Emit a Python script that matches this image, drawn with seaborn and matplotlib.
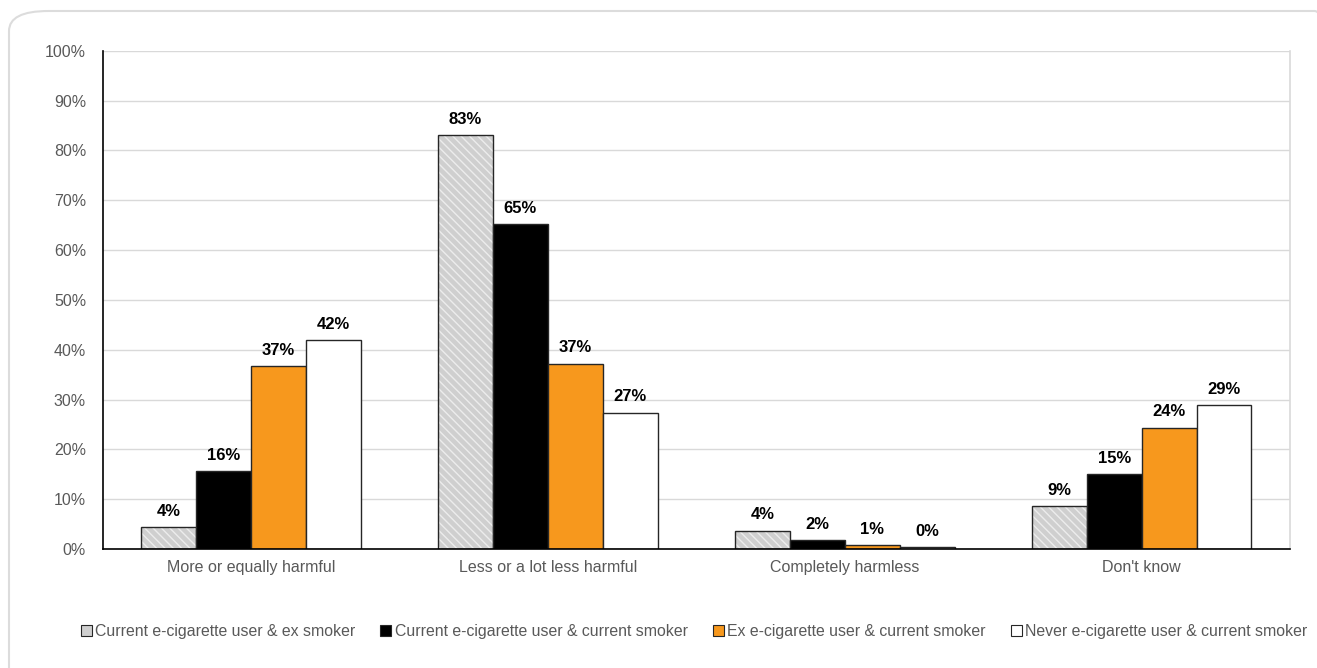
import matplotlib
matplotlib.use("Agg")
import matplotlib.pyplot as plt
import matplotlib.colors as mcolors
from matplotlib.patches import Patch, FancyBboxPatch
import seaborn as sns
import pandas as pd

categories = ["More or equally harmful", "Less or a lot less harmful",
              "Completely harmless", "Don't know"]
groups = ["Current e-cigarette user & ex smoker",
          "Current e-cigarette user & current smoker",
          "Ex e-cigarette user & current smoker",
          "Never e-cigarette user & current smoker"]
ex_smoker_vapers = [4.4, 83.0, 3.7, 8.6]
dual_users = [15.6, 65.2, 1.8, 15.0]
ex_vapers = [36.7, 37.2, 0.8, 24.4]
never_vapers = [41.9, 27.4, 0.4, 28.9]
colors = ["#cfcfcf", "#000000", "#f7981d", "#ffffff"]

rows = []
for grp, vals in zip(groups, [ex_smoker_vapers, dual_users, ex_vapers, never_vapers]):
    for cat, v in zip(categories, vals):
        rows.append({"category": cat, "group": grp, "value": v})
df = pd.DataFrame(rows)

sns.set_theme(style="white")
plt.rcParams["font.family"] = ["Liberation Sans", "DejaVu Sans"]

fig = plt.figure(figsize=(13.17, 6.68), dpi=100)
ax = fig.add_axes([0.078, 0.178, 0.9015, 0.746])

sns.barplot(data=df, x="category", y="value", hue="group", hue_order=groups,
            palette=colors, width=0.74, edgecolor="#262626", linewidth=1.0,
            saturation=1, legend=False, ax=ax)

# hatch the grey series
for bar in ax.containers[0]:
    bar.set_hatch("\\\\\\\\")
    bar._hatch_color = mcolors.to_rgba("#ececec")

for cont in ax.containers:
    ax.bar_label(cont, fmt="%.0f%%", padding=6, fontsize=12,
                 fontweight="bold", color="black")

ax.set_ylim(0, 100)
ax.set_yticks(range(0, 101, 10))
ax.set_yticklabels([f"{t}%" for t in range(0, 101, 10)])
ax.set_xlim(-0.5, 3.5)
ax.yaxis.grid(True, color="#d9d9d9", linewidth=1)
ax.set_axisbelow(True)
ax.set_xlabel("")
ax.set_ylabel("")
ax.spines["top"].set_visible(False)
ax.spines["right"].set_color("#d9d9d9")
ax.spines["right"].set_linewidth(1.2)
for s in ["left", "bottom"]:
    ax.spines[s].set_color("black")
    ax.spines[s].set_linewidth(1.2)
ax.tick_params(axis="both", length=0, labelsize=11.5, labelcolor="#595959")
ax.tick_params(axis="x", pad=8)
ax.tick_params(axis="y", pad=12)

handles = []
for g, c in zip(groups, colors):
    handles.append(Patch(facecolor=c, edgecolor="#262626", linewidth=0.8, label=g))
leg = fig.legend(handles=handles, loc="center", bbox_to_anchor=(0.527, 0.055),
                 ncol=4, frameon=False, fontsize=11.4, handlelength=0.7,
                 handleheight=0.7, handletextpad=0.2, columnspacing=1.6)
for t in leg.get_texts():
    t.set_color("#595959")

frame = FancyBboxPatch((9 / 1317, -20 / 668), 1345 / 1317, 677 / 668,
                       boxstyle="round,pad=0,rounding_size=0.03",
                       transform=fig.transFigure, facecolor="none",
                       edgecolor="#dcdcdc", linewidth=1.5, zorder=-1)
fig.patches.append(frame)

fig.savefig("out.png", dpi=100)
